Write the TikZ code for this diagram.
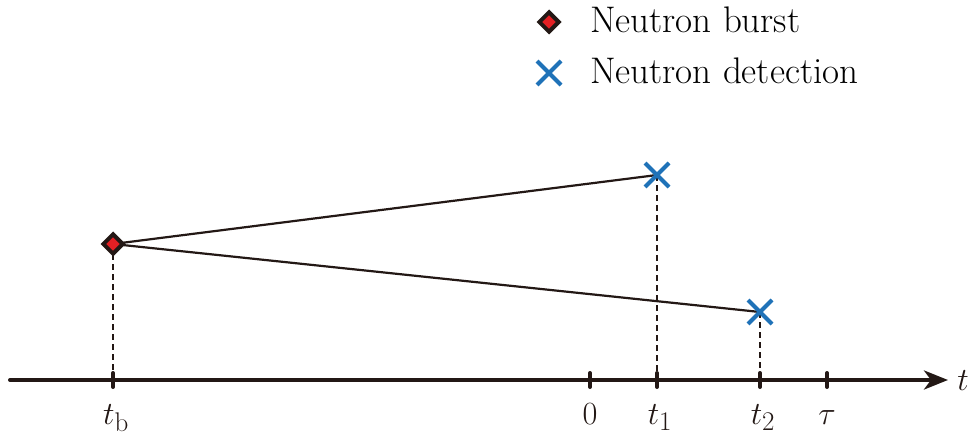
\documentclass[tikz,border=0pt]{standalone}
\usetikzlibrary{shapes.geometric,shapes.misc,arrows.meta,calc}
\definecolor{ink}{RGB}{35,24,21}
\definecolor{burstred}{RGB}{228,32,36}
\definecolor{detblue}{RGB}{31,114,184}
\newcommand{\biglab}[1]{\scalebox{1.3}{\fontsize{24.88}{30}\selectfont$#1$}}
\tikzset{
  burstmark/.style={diamond,draw=ink,fill=burstred,line width=4pt,minimum width=21pt,minimum height=21pt,inner sep=0pt},
  detmark/.style={cross out,draw=detblue,line width=4pt,minimum width=20pt,minimum height=20pt,inner sep=0pt},
  linkpath/.style={draw=ink,line width=2.2pt},
  drop/.style={draw=ink,line width=2pt,dash pattern=on 6pt off 4pt},
  tickmark/.style={draw=ink,line width=4pt,line cap=round},
  lab/.style={text=ink,inner sep=0pt,anchor=base},
  legtext/.style={font=\fontsize{37}{44}\selectfont,text=black,inner sep=0pt,anchor=base west}
}
\begin{document}
\begin{tikzpicture}[x=1pt,y=1pt]
\useasboundingbox (0,0) rectangle (972,437);
% axis coordinates
\coordinate (a0) at (10,57);
\coordinate (a1) at (948,57);
\coordinate (tb) at (113,57);
\coordinate (tz) at (590,57);
\coordinate (t1) at (657,57);
\coordinate (t2) at (760,57);
\coordinate (tt) at (827,57);
% event coordinates
\coordinate (b) at (113,193);
\coordinate (d1) at (657,262);
\coordinate (d2) at (760,125);
% dashed drops
\draw[drop] (b) -- (tb);
\draw[drop] (d1) -- (t1);
\draw[drop] (d2) -- (t2);
% axis
\draw[draw=ink,line width=4pt,line cap=round,-{Stealth[length=24pt,width=19pt,inset=7pt]}] (a0) -- (a1);
\foreach \c in {tb,tz,t1,t2,tt}{\draw[tickmark] ($(\c)+(0,-7)$) -- ($(\c)+(0,7)$);}
% paths
\draw[linkpath] (b) -- (d1);
\draw[linkpath] (b) -- (d2);
% markers
\node[burstmark] (bm) at (b) {};
\node[detmark] (dm1) at (d1) {};
\node[detmark] (dm2) at (d2) {};
% labels
\node[lab] (lb) at (116,13) {\biglab{t_{\mathrm{b}}}};
\node[lab] (l0) at (590,13) {\biglab{0}};
\node[lab] (l1) at (660,13) {\biglab{t_1}};
\node[lab] (l2) at (763,13) {\biglab{t_2}};
\node[lab] (lt) at (827,13) {\biglab{\tau}};
\node[lab] (lx) at (963,47) {\biglab{t}};
% legend
\node[burstmark] (legb) at (549,415) {};
\node[legtext] (legbt) at (590,404) {Neutron burst};
\node[detmark] (legd) at (549,364) {};
\node[legtext] (legdt) at (590,353) {Neutron detection};
\end{tikzpicture}
\end{document}
